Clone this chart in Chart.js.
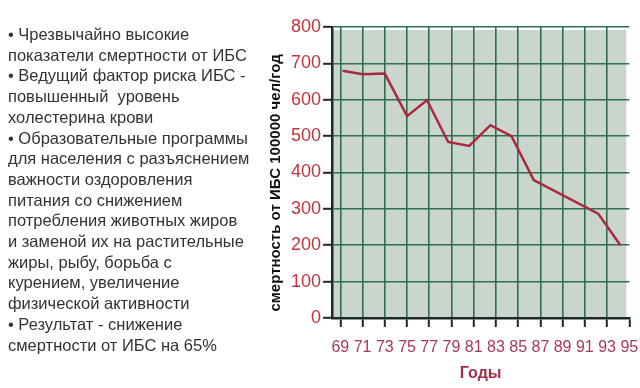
<!DOCTYPE html>
<html><head><meta charset="utf-8">
<script src="https://cdn.jsdelivr.net/npm/chart.js@4.4.1/dist/chart.umd.min.js"></script>
<style>
html,body{margin:0;padding:0;background:#fff;}
#wrap{position:relative;width:640px;height:388px;overflow:hidden;}
#notes{position:absolute;left:8px;top:24px;width:256px;font-family:"Liberation Sans",Arial,sans-serif;font-size:16.5px;line-height:20.7px;color:#333;white-space:pre;}
canvas{position:absolute;left:0;top:0;}
</style></head>
<body><div id="wrap"><canvas id="c" width="640" height="388" style="width:640px;height:388px"></canvas><div id="notes"></div></div>
<script>
// Years (x positions) and mortality values
const years = [69.2, 71, 73, 75, 76.8, 78.7, 80.6, 82.5, 84.4, 86.4, 92.2, 94.2];
const values = [680, 670, 672, 555, 599, 484, 473, 530, 500, 379, 287, 200];
const tickYears = [69, 71, 73, 75, 77, 79, 81, 83, 85, 87, 89, 91, 93, 95];
const yTicks = [0, 100, 200, 300, 400, 500, 600, 700, 800];
const xTitle = 'Годы';
const yTitle = 'смертность от ИБС 100000 чел/год';
const noteLines = [
  '• Чрезвычайно высокие',
  'показатели смертности от ИБС',
  '• Ведущий фактор риска ИБС -',
  'повышенный  уровень',
  'холестерина крови',
  '• Образовательные программы',
  'для населения с разъяснением',
  'важности оздоровления',
  'питания со снижением',
  'потребления животных жиров',
  'и заменой их на растительные',
  'жиры, рыбу, борьба с',
  'курением, увеличение',
  'физической активности',
  '• Результат - снижение',
  'смертности от ИБС на 65%'
];

document.getElementById('notes').textContent = noteLines.join('\n');

const FONT = '"Liberation Sans", Arial, sans-serif';
const GRID = '#2f6e50';
const AXIS = '#1d2a24';

const bgPlugin = {
  id: 'plotBg',
  beforeDraw(chart) {
    const a = chart.chartArea, ctx = chart.ctx;
    ctx.save();
    ctx.fillStyle = '#c9d5cd';
    ctx.fillRect(a.left, a.top + 3, a.right - a.left - 3, a.bottom - a.top - 3);
    ctx.restore();
  }
};

new Chart(document.getElementById('c'), {
  type: 'line',
  data: {
    datasets: [{
      data: years.map((y, i) => ({ x: y, y: values[i] })),
      borderColor: '#a82a3c',
      borderWidth: 2.5,
      pointRadius: 0,
      tension: 0,
      fill: false
    }]
  },
  options: {
    responsive: false,
    animation: false,
    devicePixelRatio: 1,
    layout: { padding: { left: 263, right: 10.7, top: 27, bottom: 1 } },
    plugins: { legend: { display: false }, tooltip: { enabled: false } },
    scales: {
      x: {
        type: 'linear',
        min: 68.25,
        max: 95,
        afterBuildTicks: s => { s.ticks = tickYears.map(v => ({ value: v })); },
        afterFit: s => { s.paddingRight = 0; s.paddingLeft = 0; s.height = 69; },
        ticks: { color: '#a8385a', font: { family: FONT, size: 16, lineHeight: 0.6 }, padding: 16, maxRotation: 0, autoSkip: false },
        grid: {
          color: ctx => (ctx.tick && ctx.tick.value === 95) ? 'rgba(0,0,0,0)' : GRID,
          lineWidth: 1.6, tickColor: AXIS, tickLength: 9, tickWidth: 2
        },
        border: { color: AXIS, width: 2.5 },
        title: { display: true, text: xTitle, color: '#a0304a', font: { family: FONT, size: 16, weight: 'bold' }, padding: { top: 0, bottom: 4 } }
      },
      y: {
        min: 0,
        max: 800,
        afterBuildTicks: s => { s.ticks = yTicks.map(v => ({ value: v })); },
        ticks: { color: '#c2343e', font: { family: FONT, size: 18 }, padding: 2 },
        grid: { color: GRID, lineWidth: 1.6, tickColor: AXIS, tickLength: 9, tickWidth: 2 },
        border: { color: AXIS, width: 2.5 },
        title: { display: true, text: yTitle + '     ', color: '#111', font: { family: FONT, size: 15, weight: 'bold' }, padding: { top: 4, bottom: 4 } }
      }
    }
  },
  plugins: [bgPlugin]
});
</script>
</body></html>
